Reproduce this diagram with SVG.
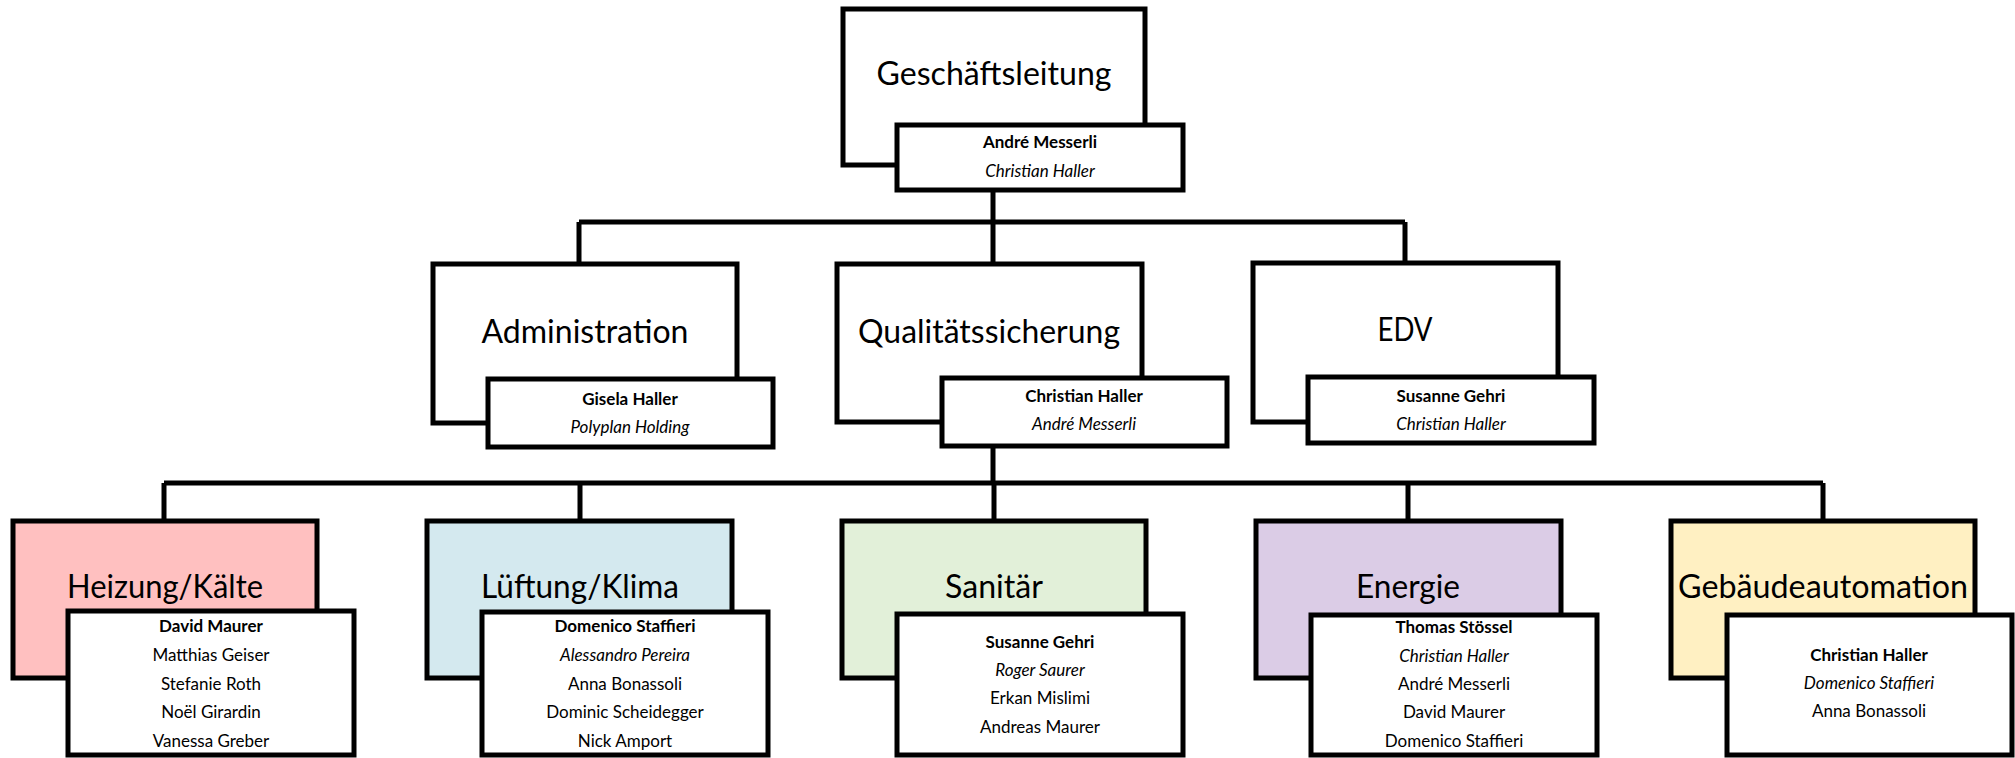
<svg xmlns="http://www.w3.org/2000/svg" width="2015" height="758" viewBox="0 0 2015 758">
<style>
.box{stroke:#000;stroke-width:5;stroke-linejoin:miter}
.outer{fill:#fff}
.inner{fill:#fff}
.title{font-family:Lato,"Liberation Sans",sans-serif;font-size:33px;fill:#000;text-anchor:middle}
.nm{font-family:Lato,"Liberation Sans",sans-serif;font-size:17px;fill:#000;text-anchor:middle}
.b{font-weight:bold}
.i{font-style:italic}
.conn{fill:none;stroke:#000;stroke-width:5}
</style>
<rect width="2015" height="758" fill="#fff"/>
<g id="connectors">
<path class="conn" d="M993,190 V222 M579,222 H1405 M579,222 V264 M993,222 V264 M1405,222 V263"/>
<path class="conn" d="M993,446 V483 M164,483 H1823 M164,483 V521 M580,483 V521 M994,483 V521 M1408,483 V521 M1823,483 V521"/>
</g>
<g id="geschaeftsleitung">
<rect class="box outer" x="843" y="9" width="302" height="156"/>
<text class="title" x="994" y="85" textLength="235" lengthAdjust="spacingAndGlyphs">Geschäftsleitung</text>
<rect class="box inner" x="897" y="125" width="286" height="65"/>
<text class="nm b" x="1040" y="148">André Messerli</text>
<text class="nm i" x="1040" y="177">Christian Haller</text>
</g>
<g id="administration">
<rect class="box outer" x="433" y="264" width="304" height="159"/>
<text class="title" x="585" y="343" textLength="207" lengthAdjust="spacingAndGlyphs">Administration</text>
<rect class="box inner" x="488" y="379" width="285" height="68"/>
<text class="nm b" x="630" y="405">Gisela Haller</text>
<text class="nm i" x="630" y="433">Polyplan Holding</text>
</g>
<g id="qualitaetssicherung">
<rect class="box outer" x="837" y="264" width="305" height="158"/>
<text class="title" x="989" y="343" textLength="262" lengthAdjust="spacingAndGlyphs">Qualitätssicherung</text>
<rect class="box inner" x="942" y="378" width="285" height="68"/>
<text class="nm b" x="1084" y="402">Christian Haller</text>
<text class="nm i" x="1084" y="430">André Messerli</text>
</g>
<g id="edv">
<rect class="box outer" x="1253" y="263" width="305" height="159"/>
<text class="title" x="1405" y="341" textLength="55" lengthAdjust="spacingAndGlyphs">EDV</text>
<rect class="box inner" x="1308" y="377" width="286" height="66"/>
<text class="nm b" x="1451" y="402">Susanne Gehri</text>
<text class="nm i" x="1451" y="430">Christian Haller</text>
</g>
<g id="heizung">
<rect class="box" fill="#FFC0C0" x="13" y="521" width="304" height="157"/>
<text class="title" x="165" y="598" textLength="196" lengthAdjust="spacingAndGlyphs">Heizung/Kälte</text>
<rect class="box inner" x="68" y="611" width="286" height="144"/>
<text class="nm b" x="211" y="632">David Maurer</text>
<text class="nm" x="211" y="661">Matthias Geiser</text>
<text class="nm" x="211" y="690">Stefanie Roth</text>
<text class="nm" x="211" y="718">Noël Girardin</text>
<text class="nm" x="211" y="747">Vanessa Greber</text>
</g>
<g id="lueftung">
<rect class="box" fill="#D4E9EF" x="427" y="521" width="305" height="157"/>
<text class="title" x="580" y="598" textLength="198" lengthAdjust="spacingAndGlyphs">Lüftung/Klima</text>
<rect class="box inner" x="482" y="612" width="286" height="143"/>
<text class="nm b" x="625" y="632">Domenico Staffieri</text>
<text class="nm i" x="625" y="661">Alessandro Pereira</text>
<text class="nm" x="625" y="690">Anna Bonassoli</text>
<text class="nm" x="625" y="718">Dominic Scheidegger</text>
<text class="nm" x="625" y="747">Nick Amport</text>
</g>
<g id="sanitaer">
<rect class="box" fill="#E2F0D9" x="842" y="521" width="304" height="157"/>
<text class="title" x="994" y="598" textLength="98" lengthAdjust="spacingAndGlyphs">Sanitär</text>
<rect class="box inner" x="897" y="614" width="286" height="141"/>
<text class="nm b" x="1040" y="648">Susanne Gehri</text>
<text class="nm i" x="1040" y="676">Roger Saurer</text>
<text class="nm" x="1040" y="704">Erkan Mislimi</text>
<text class="nm" x="1040" y="733">Andreas Maurer</text>
</g>
<g id="energie">
<rect class="box" fill="#DBCCE6" x="1256" y="521" width="305" height="157"/>
<text class="title" x="1408" y="598" textLength="104" lengthAdjust="spacingAndGlyphs">Energie</text>
<rect class="box inner" x="1311" y="615" width="286" height="140"/>
<text class="nm b" x="1454" y="633">Thomas Stössel</text>
<text class="nm i" x="1454" y="662">Christian Haller</text>
<text class="nm" x="1454" y="690">André Messerli</text>
<text class="nm" x="1454" y="718">David Maurer</text>
<text class="nm" x="1454" y="747">Domenico Staffieri</text>
</g>
<g id="gebaeudeautomation">
<rect class="box" fill="#FFF0C2" x="1671" y="521" width="304" height="157"/>
<text class="title" x="1823" y="598" textLength="290" lengthAdjust="spacingAndGlyphs">Gebäudeautomation</text>
<rect class="box inner" x="1727" y="615" width="285" height="140"/>
<text class="nm b" x="1869" y="661">Christian Haller</text>
<text class="nm i" x="1869" y="689">Domenico Staffieri</text>
<text class="nm" x="1869" y="717">Anna Bonassoli</text>
</g>
</svg>
